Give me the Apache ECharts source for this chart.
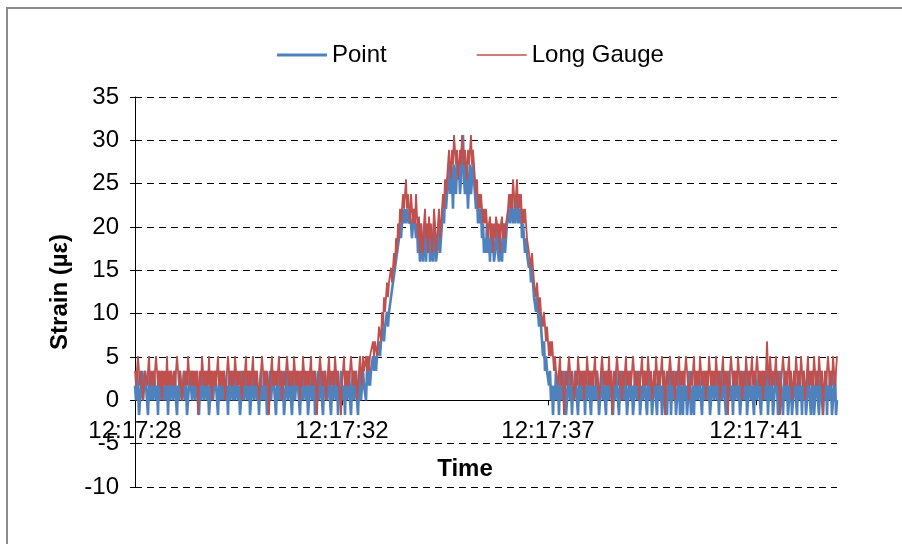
<!DOCTYPE html>
<html>
<head>
<meta charset="utf-8">
<script src="https://cdn.jsdelivr.net/npm/echarts@6/dist/echarts.min.js"></script>
<style>
  html, body { margin: 0; padding: 0; background: #fff; }
  #chart { width: 902px; height: 544px; }
</style>
</head>
<body>
<div id="chart"></div>
<script>
// tick labels on the time axis and the sample index they sit at
let timeLabels = ['12:17:28', '12:17:32', '12:17:37', '12:17:41'];
let timeTickIdx = [0, 207, 413, 621];

// Point gauge (blue) in pieces: before, during and after the load
let pointBefore = [
  1.7,0,3.4,1.7,-1.7,0,1.7,3.4,0,1.7,3.4,1.7,0,-1.7,1.7,3.4,0,1.7,0,3.4,
  1.7,0,1.7,-1.7,3.4,0,1.7,3.4,1.7,0,1.7,0,3.4,-1.7,1.7,0,3.4,1.7,0,1.7,
  3.4,0,-1.7,1.7,0,3.4,1.7,0,1.7,3.4,0,1.7,-1.7,0,1.7,3.4,1.7,0,3.4,1.7,
  0,1.7,3.4,0,-1.7,1.7,0,3.4,1.7,0,1.7,3.4,0,1.7,-1.7,0,3.4,1.7,0,1.7,
  3.4,1.7,0,-1.7,1.7,3.4,0,1.7,0,3.4,1.7,0,1.7,-1.7,3.4,0,1.7,3.4,0,1.7,
  0,3.4,1.7,0,1.7,-1.7,0,3.4,1.7,0,3.4,1.7,0,1.7,3.4,-1.7,0,1.7,3.4,0,
  1.7,3.4,0,1.7,-1.7,1.7,3.4,0,1.7,0,3.4,1.7,-1.7,0,1.7,3.4,0,1.7,3.4,1.7,
  0,-1.7,1.7,3.4,0,1.7,0,3.4,1.7,-1.7,0,1.7,3.4,0,1.7,3.4,0,-1.7,1.7,3.4,
  0,1.7,3.4,1.7,0,-1.7,1.7,3.4,0,1.7,3.4,0,1.7,-1.7,0,3.4,1.7,0,1.7,3.4,
  -1.7,0,1.7,3.4,0,1.7,3.4,0,-1.7,1.7,3.4,1.7,0,1.7,3.4,0,-1.7,1.7,0,3.4,
  1.7,0,3.4,-1.7,1.7,0,3.4,1.7,0,1.7,-1.7,3.4,0,1.7,3.4,0,-1.7,1.7,3.4,0,
  1.7,3.4,0,-1.7,1.7,3.4,0,1.7,3.4,1.7
];
let pointLoad = [
  1.7,0,3.4,1.7,3.4,1.7,3.4,
  3.4,5.1,3.4,5.1,3.4,5.1,
  5.1,6.8,5.1,6.8,
  6.8,8.5,6.8,8.5,
  8.5,10.2,8.5,10.2,
  10.2,11.9,11.9,13.6,
  13.6,15.3,15.3,17,
  17,18.7,20.4,18.7,
  20.4,22.1,20.4,22.1,20.4,22.1,
  22.1,20.4,21.2,20.4,18.7,20.4,22.1,20.4,18.7,20.4,
  17,18.7,16,20.4,17,16,18.7,20.4,16,18.7,17,20.4,16,18.7,17,16,20.4,18.7,16,17,18.7,20.4,17,18.7,
  20.4,22.1,20.4,23.8,22.1,23.8,
  25.5,27.2,23.8,27.2,25.5,22.1,27.2,25.5,23.8,27.2,25.5,27.2,23.8,25.5,
  28.9,30.6,25.5,23.8,27.2,25.5,22.1,25.5,27.2,23.8,25.5,27.2,25.5,23.8,
  22.1,23.8,20.4,22.1,20.4,22.1,
  18.7,20.4,17,18.7,17,20.4,
  17,18.7,16,20.4,17,18.7,16,17,18.7,20.4,17,16,18.7,17,16,18.7,20.4,17,18.7,20.4,
  20.4,22.1,20.4,22.1,23.8,20.4,22.1,20.4,22.1,23.8,20.4,22.1,20.4,22.1,
  18.7,20.4,18.7,17,18.7,17,
  16,15.3,16,13.6,15.3,13.6,11.9,
  11.9,10.2,11.9,10.2,8.5,10.2,8.5,
  6.8,5.1,6.8,3.4,5.1,3.4,
  3.4,1.7,3.4,0,1.7,
  -1.7,1.7,0,3.4
];
let pointAfter = [
  0,1.7,-1.7,3.4,0,1.7,0,3.4,1.7,-1.7,0,1.7,3.4,0,1.7,-1.7,1.7,0,3.4,1.7,
  0,-1.7,1.7,3.4,0,1.7,0,3.4,-1.7,1.7,0,1.7,3.4,0,-1.7,1.7,3.4,0,1.7,0,
  3.4,1.7,-1.7,0,1.7,3.4,0,1.7,0,-1.7,3.4,1.7,0,1.7,3.4,0,-1.7,1.7,0,3.4,
  1.7,0,-1.7,1.7,3.4,0,1.7,0,3.4,1.7,-1.7,0,1.7,3.4,0,1.7,-1.7,0,3.4,1.7,
  0,1.7,3.4,-1.7,0,1.7,0,3.4,1.7,0,-1.7,1.7,3.4,0,1.7,-1.7,0,1.7,3.4,0,
  -1.7,1.7,3.4,0,1.7,-1.7,0,3.4,1.7,0,-1.7,1.7,0,3.4,-1.7,1.7,0,3.4,1.7,-1.7,
  0,1.7,3.4,-1.7,0,1.7,-1.7,3.4,0,1.7,-1.7,0,3.4,1.7,-1.7,0,1.7,-1.7,3.4,0,
  1.7,0,3.4,1.7,0,-1.7,1.7,3.4,0,1.7,3.4,0,1.7,-1.7,0,3.4,1.7,0,1.7,3.4,
  0,1.7,-1.7,3.4,1.7,0,1.7,3.4,0,-1.7,1.7,0,3.4,1.7,0,1.7,-1.7,3.4,0,1.7,
  3.4,0,1.7,-1.7,0,3.4,1.7,0,1.7,3.4,-1.7,0,1.7,3.4,0,1.7,0,-1.7,3.4,1.7,
  0,1.7,3.4,0,-1.7,1.7,3.4,0,1.7,0,3.4,-1.7,1.7,0,3.4,1.7,-1.7,0,1.7,3.4,
  1.7,-1.7,0,3.4,1.7,0,-1.7,1.7,3.4,0,1.7,-1.7,0,3.4,1.7,-1.7,0,1.7,3.4,0,
  -1.7,1.7,3.4,0,1.7,-1.7,3.4,0,1.7,-1.7,0,3.4,1.7,0,-1.7,1.7,3.4,-1.7,0,1.7,
  3.4,0,-1.7,1.7,3.4,0,-1.7,1.7,0,3.4,-1.7,1.7,0,3.4,1.7,-1.7,0,1.7,3.4,-1.7,
  0
];

// Long gauge (red)
let longBefore = [
  3.4,1.7,3.4,5.1,3.4,1.7,3.4,1.7,0,1.7,3.4,3.4,1.7,3.4,5.1,1.7,3.4,1.7,3.4,1.7,
  3.4,5.1,3.4,1.7,3.4,1.7,3.4,0,3.4,1.7,3.4,1.7,5.1,1.7,3.4,1.7,3.4,3.4,1.7,3.4,
  1.7,3.4,5.1,3.4,1.7,3.4,1.7,0,1.7,3.4,1.7,3.4,1.7,5.1,3.4,1.7,3.4,1.7,3.4,1.7,
  3.4,1.7,3.4,-1.7,1.7,3.4,1.7,5.1,3.4,1.7,3.4,1.7,3.4,1.7,5.1,1.7,3.4,0,3.4,1.7,
  3.4,1.7,3.4,5.1,1.7,3.4,1.7,3.4,1.7,3.4,0,1.7,3.4,5.1,3.4,1.7,3.4,1.7,3.4,1.7,
  5.1,3.4,1.7,3.4,1.7,3.4,1.7,0,3.4,1.7,3.4,5.1,1.7,3.4,1.7,3.4,1.7,3.4,5.1,1.7,
  3.4,1.7,3.4,1.7,0,1.7,3.4,5.1,3.4,1.7,3.4,1.7,3.4,1.7,-1.7,1.7,3.4,5.1,1.7,3.4,
  1.7,3.4,1.7,3.4,5.1,1.7,3.4,0,1.7,3.4,1.7,3.4,5.1,3.4,1.7,3.4,1.7,3.4,1.7,5.1,
  3.4,1.7,3.4,1.7,3.4,0,3.4,1.7,5.1,3.4,1.7,3.4,1.7,3.4,1.7,3.4,5.1,1.7,3.4,1.7,
  3.4,1.7,-1.7,1.7,3.4,5.1,3.4,1.7,3.4,1.7,3.4,0,1.7,3.4,5.1,1.7,3.4,1.7,3.4,1.7,
  5.1,3.4,1.7,3.4,1.7,0,-1.7,1.7,3.4,5.1,1.7,3.4,1.7,3.4,1.7,3.4,5.1,3.4,1.7,3.4,
  1.7,3.4,0,1.7,3.4,5.1,3.4,1.7,5.1,3.4
];
let longLoad = [
  3.4,5.1,3.4,5.1,3.4,5.1,5.1,
  5.1,6.8,5.1,6.8,6.8,5.1,
  6.8,8.5,8.5,6.8,
  10.2,8.5,11.9,10.2,
  11.9,13.6,11.9,13.6,
  13.6,15.3,13.6,15.3,
  17,15.3,18.7,17,
  20.4,18.7,22.1,20.4,
  22.1,23.8,22.1,23.8,25.5,22.1,
  23.8,22.1,20.4,23.8,22.1,20.4,22.1,20.4,23.8,21.2,
  18.7,21.2,17,20.4,18.7,17,20.4,22.1,18.7,20.4,17,21.2,18.7,20.4,17,18.7,22.1,20.4,17,18.7,20.4,22.1,18.7,20.4,
  22.1,23.8,22.1,25.5,23.8,25.5,
  27.2,28.9,27.2,25.5,28.9,27.2,30.6,28.9,27.2,28.9,25.5,27.2,28.9,27.2,
  30.6,28.9,27.2,28.9,27.2,25.5,28.9,27.2,28.9,30.6,27.2,28.9,27.2,25.5,
  23.8,25.5,22.1,23.8,22.1,23.8,
  22.1,20.4,22.1,20.4,22.1,20.4,
  18.7,20.4,21.2,18.7,20.4,17,20.4,18.7,21.2,20.4,18.7,20.4,17,20.4,21.2,18.7,20.4,18.7,20.4,21.2,
  22.1,23.8,22.1,23.8,22.1,25.5,23.8,22.1,23.8,25.5,22.1,23.8,22.1,23.8,
  20.4,22.1,20.4,22.1,20.4,18.7,
  18.7,17,17,15.3,17,15.3,13.6,
  13.6,11.9,13.6,11.9,10.2,11.9,10.2,
  10.2,8.5,10.2,8.5,6.8,8.5,
  6.8,5.1,6.8,5.1,6.8,
  5.1,3.4,5.1,3.4
];
let longAfter = [
  3.4,1.7,3.4,5.1,1.7,3.4,1.7,-1.7,1.7,3.4,1.7,3.4,5.1,3.4,1.7,3.4,1.7,0,1.7,3.4,
  1.7,5.1,3.4,1.7,3.4,1.7,3.4,0,3.4,1.7,5.1,3.4,1.7,3.4,1.7,3.4,1.7,3.4,5.1,1.7,
  3.4,1.7,0,1.7,3.4,5.1,3.4,1.7,3.4,1.7,3.4,1.7,5.1,1.7,3.4,-1.7,1.7,3.4,1.7,3.4,
  5.1,3.4,1.7,3.4,1.7,0,3.4,1.7,3.4,5.1,1.7,3.4,1.7,3.4,1.7,3.4,5.1,3.4,1.7,3.4,
  1.7,3.4,0,1.7,3.4,5.1,1.7,3.4,1.7,3.4,1.7,5.1,3.4,1.7,3.4,0,1.7,3.4,1.7,5.1,
  3.4,1.7,3.4,1.7,3.4,5.1,1.7,3.4,-1.7,1.7,3.4,1.7,3.4,5.1,3.4,1.7,3.4,1.7,0,3.4,
  1.7,3.4,5.1,1.7,3.4,1.7,3.4,1.7,3.4,5.1,3.4,1.7,0,1.7,3.4,1.7,3.4,5.1,1.7,3.4,
  1.7,3.4,1.7,5.1,3.4,1.7,3.4,1.7,3.4,0,3.4,1.7,5.1,3.4,1.7,3.4,1.7,3.4,1.7,5.1,
  3.4,1.7,3.4,0,1.7,3.4,5.1,1.7,3.4,1.7,3.4,-1.7,1.7,3.4,5.1,3.4,1.7,3.4,1.7,3.4,
  1.7,5.1,3.4,1.7,3.4,0,1.7,3.4,1.7,5.1,3.4,1.7,3.4,1.7,3.4,5.1,1.7,3.4,1.7,3.4,
  5.1,3.4,1.7,3.4,1.7,3.4,0,3.4,1.7,3.4,6.8,3.4,1.7,5.1,3.4,1.7,3.4,1.7,3.4,5.1,
  1.7,3.4,1.7,-1.7,1.7,3.4,5.1,3.4,1.7,3.4,1.7,3.4,5.1,1.7,3.4,0,1.7,3.4,1.7,5.1,
  3.4,1.7,3.4,1.7,5.1,3.4,1.7,3.4,0,1.7,3.4,5.1,1.7,3.4,1.7,3.4,1.7,5.1,3.4,1.7,
  3.4,1.7,5.1,3.4,1.7,3.4,-1.7,1.7,3.4,1.7,3.4,5.1,3.4,1.7,3.4,1.7,5.1,3.4,1.7,3.4,
  5.1
];

let pointStrain = pointBefore.concat(pointLoad, pointAfter);
let longStrain = longBefore.concat(longLoad, longAfter);
let samples = pointStrain.map(function (v, i) { return i; });

let font = 'Liberation Sans, Arial, sans-serif';
function showTick(idx) { return timeTickIdx.indexOf(idx) >= 0; }

let option = {
  animation: false,
  backgroundColor: '#fff',
  textStyle: { fontFamily: font },
  graphic: [{
    type: 'rect',
    shape: { x: 7, y: 8, width: 920, height: 560 },
    style: { fill: 'none', stroke: '#8c8c8c', lineWidth: 2 },
    silent: true
  }],
  legend: {
    left: 272,
    top: 38,
    itemWidth: 50,
    itemHeight: 3,
    itemGap: 90,
    textStyle: { fontSize: 24, color: '#000', fontFamily: font },
    data: [
      { name: 'Point', icon: 'path://M0,0H50V3H0Z' },
      { name: 'Long Gauge', icon: 'path://M0,0H50V0.01H0Z M0,0.8H50V2.2H0Z M0,2.99H50V3H0Z' }
    ]
  },
  grid: { left: 135, right: 65, top: 97, bottom: 57, outerBoundsMode: 'none', containLabel: false },
  xAxis: {
    type: 'category',
    data: samples,
    boundaryGap: false,
    // the axis crosses the value axis at 0 (Excel style)
    offset: -86.7,
    name: 'Time',
    nameLocation: 'middle',
    nameGap: 57,
    nameTextStyle: { fontSize: 24, fontWeight: 'bold', color: '#000', padding: [0, 42, 0, 0] },
    axisLine: { onZero: false, lineStyle: { color: '#000', width: 1 } },
    axisTick: { show: true, interval: showTick, length: 5, lineStyle: { color: '#000' } },
    axisLabel: {
      interval: showTick,
      margin: 19,
      fontSize: 24,
      color: '#000',
      formatter: function (val, idx) { return timeLabels[timeTickIdx.indexOf(idx)]; }
    },
    splitLine: { show: false }
  },
  yAxis: {
    type: 'value',
    min: -10,
    max: 35,
    interval: 5,
    name: 'Strain (µε)',
    nameLocation: 'middle',
    nameGap: 63,
    nameTextStyle: { fontSize: 24, fontWeight: 'bold', color: '#000' },
    axisLine: { show: true, lineStyle: { color: '#000', width: 1 } },
    axisTick: { show: true, length: 5, lineStyle: { color: '#000' } },
    axisLabel: { fontSize: 24, color: '#000', margin: 16 },
    splitLine: { show: true, lineStyle: { color: '#000', type: [7, 5], width: 1 } }
  },
  series: [
    {
      name: 'Point',
      type: 'line',
      data: pointStrain,
      symbol: 'none',
      lineStyle: { color: '#4f81bd', width: 2.6 },
      itemStyle: { color: '#4f81bd' }
    },
    {
      name: 'Long Gauge',
      type: 'line',
      data: longStrain,
      symbol: 'none',
      lineStyle: { color: '#c0504d', width: 1.8 },
      itemStyle: { color: '#c0504d' }
    }
  ]
};

let myChart = echarts.init(document.getElementById('chart'));
myChart.setOption(option);
</script>
</body>
</html>
